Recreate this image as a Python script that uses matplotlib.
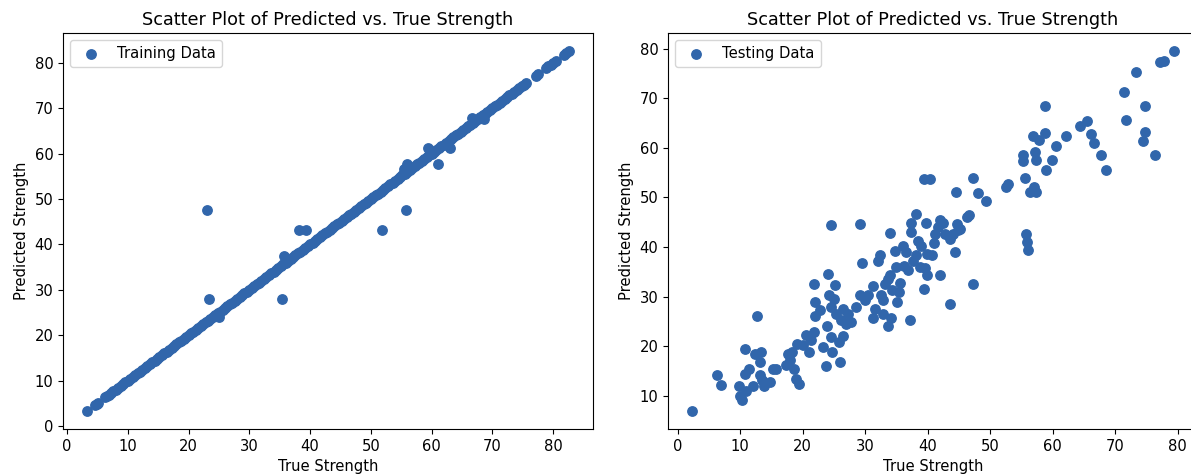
import matplotlib
matplotlib.use("Agg")
import matplotlib.pyplot as plt

# training set: true vs predicted strength (mostly on the diagonal)
train_true = [3.3, 4.6, 4.9, 5.1, 6.3, 6.6, 6.9, 7.2, 7.6, 8.0, 8.4, 8.8, 9.2, 9.6, 10.0, 10.4,
              10.8, 11.2, 11.6, 12.0, 12.4, 12.8, 13.2, 13.6, 14.0, 14.4, 14.8, 15.2, 15.6, 16.0,
              16.4, 16.8, 17.2, 17.6, 18.0, 18.4, 18.8, 19.2, 19.6, 20.0, 20.4, 20.8, 21.2, 21.6,
              22.0, 22.4, 22.8, 23.2, 23.6, 24.0, 24.4, 24.8, 25.2, 25.6, 26.0, 26.4, 26.8, 27.2,
              27.6, 28.0, 28.4, 28.8, 29.2, 29.6, 30.0, 30.4, 30.8, 31.2, 31.6, 32.0, 32.4, 32.8,
              33.2, 33.6, 34.0, 34.4, 34.8, 35.2, 35.6, 36.0, 36.4, 36.8, 37.2, 37.6, 38.0, 38.4,
              38.8, 39.2, 39.6, 40.0, 40.4, 40.8, 41.2, 41.6, 42.0, 42.4, 42.8, 43.2, 43.6, 44.0,
              44.4, 44.8, 45.2, 45.6, 46.0, 46.4, 46.8, 47.2, 47.6, 48.0, 48.4, 48.8, 49.2, 49.6,
              50.0, 50.4, 50.8, 51.2, 51.6, 52.0, 52.4, 52.8, 53.2, 53.6, 54.0, 54.4, 54.8, 55.2,
              55.6, 56.0, 56.4, 56.8, 57.2, 57.6, 58.0, 58.4, 58.8, 59.2, 59.6, 60.0, 60.4, 60.8,
              61.2, 61.6, 62.0, 62.4, 62.8, 63.2, 63.6, 64.0, 64.4, 64.8, 65.2, 65.6, 66.0, 66.4,
              66.8, 67.2, 67.6, 68.0, 68.4, 68.8, 69.2, 69.6, 70.0, 70.4, 70.8, 71.2, 71.6, 72.0,
              72.4, 72.8, 73.2, 73.6, 74.0, 74.4, 74.8, 75.2, 75.6, 77.2, 77.5, 78.8, 79.2, 79.6,
              80.0, 80.4, 81.8, 82.2, 82.6,
              23.0, 23.3, 35.4, 38.1, 39.3, 51.9, 55.8, 61.1, 63.1, 59.4, 56.0, 35.7, 66.7, 68.7,
              25.0, 55.5]
train_pred = [3.3, 4.6, 4.9, 5.1, 6.3, 6.6, 6.9, 7.2, 7.6, 8.0, 8.4, 8.8, 9.2, 9.6, 10.0, 10.4,
              10.8, 11.2, 11.6, 12.0, 12.4, 12.8, 13.2, 13.6, 14.0, 14.4, 14.8, 15.2, 15.6, 16.0,
              16.4, 16.8, 17.2, 17.6, 18.0, 18.4, 18.8, 19.2, 19.6, 20.0, 20.4, 20.8, 21.2, 21.6,
              22.0, 22.4, 22.8, 23.2, 23.6, 24.0, 24.4, 24.8, 25.2, 25.6, 26.0, 26.4, 26.8, 27.2,
              27.6, 28.0, 28.4, 28.8, 29.2, 29.6, 30.0, 30.4, 30.8, 31.2, 31.6, 32.0, 32.4, 32.8,
              33.2, 33.6, 34.0, 34.4, 34.8, 35.2, 35.6, 36.0, 36.4, 36.8, 37.2, 37.6, 38.0, 38.4,
              38.8, 39.2, 39.6, 40.0, 40.4, 40.8, 41.2, 41.6, 42.0, 42.4, 42.8, 43.2, 43.6, 44.0,
              44.4, 44.8, 45.2, 45.6, 46.0, 46.4, 46.8, 47.2, 47.6, 48.0, 48.4, 48.8, 49.2, 49.6,
              50.0, 50.4, 50.8, 51.2, 51.6, 52.0, 52.4, 52.8, 53.2, 53.6, 54.0, 54.4, 54.8, 55.2,
              55.6, 56.0, 56.4, 56.8, 57.2, 57.6, 58.0, 58.4, 58.8, 59.2, 59.6, 60.0, 60.4, 60.8,
              61.2, 61.6, 62.0, 62.4, 62.8, 63.2, 63.6, 64.0, 64.4, 64.8, 65.2, 65.6, 66.0, 66.4,
              66.8, 67.2, 67.6, 68.0, 68.4, 68.8, 69.2, 69.6, 70.0, 70.4, 70.8, 71.2, 71.6, 72.0,
              72.4, 72.8, 73.2, 73.6, 74.0, 74.4, 74.8, 75.2, 75.6, 77.2, 77.5, 78.8, 79.2, 79.6,
              80.0, 80.4, 81.8, 82.2, 82.6,
              47.6, 27.9, 27.9, 43.2, 43.2, 43.2, 47.6, 57.6, 61.3, 61.3, 57.6, 37.4, 67.9, 67.6,
              24.0, 56.5]

# testing set
test_true = [2.3, 6.3, 6.9, 9.8, 10.0, 10.3, 10.8, 10.8, 11.4, 11.0, 12.0, 12.7, 12.4, 13.4,
             13.2, 13.2, 13.5, 13.8, 14.8, 15.2, 15.8, 17.4, 17.7, 18.3, 18.0, 18.6, 18.9, 19.4,
             19.1, 20.0, 21.0, 20.6, 21.4, 21.8, 21.8, 21.9, 21.9, 22.8, 23.3, 23.8, 23.9, 24.0,
             24.2, 24.5, 24.6, 24.5, 24.7, 25.1, 25.0, 25.3, 25.9, 25.8, 26.1, 26.4, 26.4, 27.0,
             27.3, 27.8, 28.5, 29.2, 29.2, 29.5, 30.0, 30.4, 31.2, 31.2, 31.5, 32.0, 32.3, 32.6,
             32.9, 32.9, 33.2, 33.7, 33.7, 33.9, 34.0, 34.1, 34.3, 34.8, 35.0, 35.1, 35.4, 35.6,
             36.0, 36.2, 36.5, 36.8, 37.1, 37.3, 37.4, 37.6, 38.1, 38.2, 38.5, 38.8, 39.0, 39.4,
             39.4, 39.6, 39.7, 39.9, 39.9, 40.3, 40.7, 41.0, 41.2, 41.6, 41.9, 42.0, 42.4, 42.7,
             43.5, 43.6, 44.1, 44.4, 44.5, 44.7, 44.9, 45.1, 46.3, 46.6, 47.3, 47.3, 48.0, 49.4,
             52.5, 52.9, 55.6, 55.3, 55.3, 55.7, 55.9, 56.0, 56.4, 56.9, 57.0, 57.3, 57.1, 57.4,
             57.8, 58.7, 58.8, 58.9, 59.9, 60.5, 62.2, 64.3, 65.5, 66.2, 66.6, 67.8, 68.5, 71.4,
             71.8, 73.4, 74.4, 74.7, 74.8, 76.4, 77.1, 77.8, 79.4]
test_pred = [7.0, 14.3, 12.3, 12.1, 10.0, 9.3, 19.4, 14.4, 15.5, 11.1, 12.1, 26.1, 18.5, 18.9,
             16.9, 14.2, 13.2, 12.0, 12.8, 15.5, 15.5, 16.2, 18.5, 18.9, 17.2, 15.5, 13.5, 12.5,
             20.5, 20.3, 18.9, 22.4, 21.2, 23.0, 32.5, 28.9, 26.1, 27.3, 19.9, 16.0, 24.2, 34.5,
             30.3, 27.9, 44.4, 22.0, 18.9, 32.3, 29.6, 26.6, 16.9, 20.9, 25.3, 22.2, 27.6, 24.6,
             26.6, 24.9, 27.9, 30.3, 44.6, 36.9, 29.3, 30.3, 25.8, 32.1, 27.6, 37.2, 38.4, 30.3,
             26.6, 29.4, 32.6, 33.6, 24.2, 42.9, 34.3, 25.8, 31.3, 39.2, 35.9, 28.9, 31.0, 32.8,
             40.2, 36.3, 39.0, 35.3, 25.3, 44.9, 43.1, 37.3, 46.7, 38.4, 41.3, 36.0, 40.2, 53.7,
             31.5, 35.7, 44.9, 38.7, 34.3, 53.7, 38.4, 40.9, 42.7, 44.1, 45.5, 34.3, 44.9, 42.7,
             28.6, 41.7, 42.7, 39.0, 51.1, 44.7, 43.4, 43.7, 46.1, 46.4, 53.9, 32.5, 50.9, 49.3,
             52.1, 52.8, 53.9, 58.5, 57.4, 42.7, 41.0, 39.4, 51.1, 62.3, 52.1, 51.1, 59.1, 57.5,
             61.5, 68.4, 62.9, 55.6, 57.5, 60.3, 62.3, 64.4, 65.4, 62.7, 60.9, 58.6, 55.6, 71.3,
             65.7, 75.3, 61.3, 68.4, 63.2, 58.6, 77.2, 77.4, 79.5]

color = "#3166ab"
plt.rcParams['font.size'] = 10.6
plt.rcParams['axes.titlesize'] = 12.7

fig = plt.figure(figsize=(11.91, 4.75), dpi=100)
ax1 = fig.add_axes([63 / 1191, 46 / 475, 530 / 1191, 396 / 475])
ax2 = fig.add_axes([668 / 1191, 46 / 475, 530 / 1191, 396 / 475])

ax1.scatter(train_true, train_pred, s=46, color=color, label='Training Data')
ax1.set_title('Scatter Plot of Predicted vs. True Strength')
ax1.set_xlabel('True Strength')
ax1.set_ylabel('Predicted Strength')
ax1.legend(loc='upper left')

ax2.scatter(test_true, test_pred, s=46, color=color, label='Testing Data')
ax2.set_title('Scatter Plot of Predicted vs. True Strength')
ax2.set_xlabel('True Strength')
ax2.set_ylabel('Predicted Strength')
ax2.legend(loc='upper left')

fig.savefig('out.png', dpi=100)
